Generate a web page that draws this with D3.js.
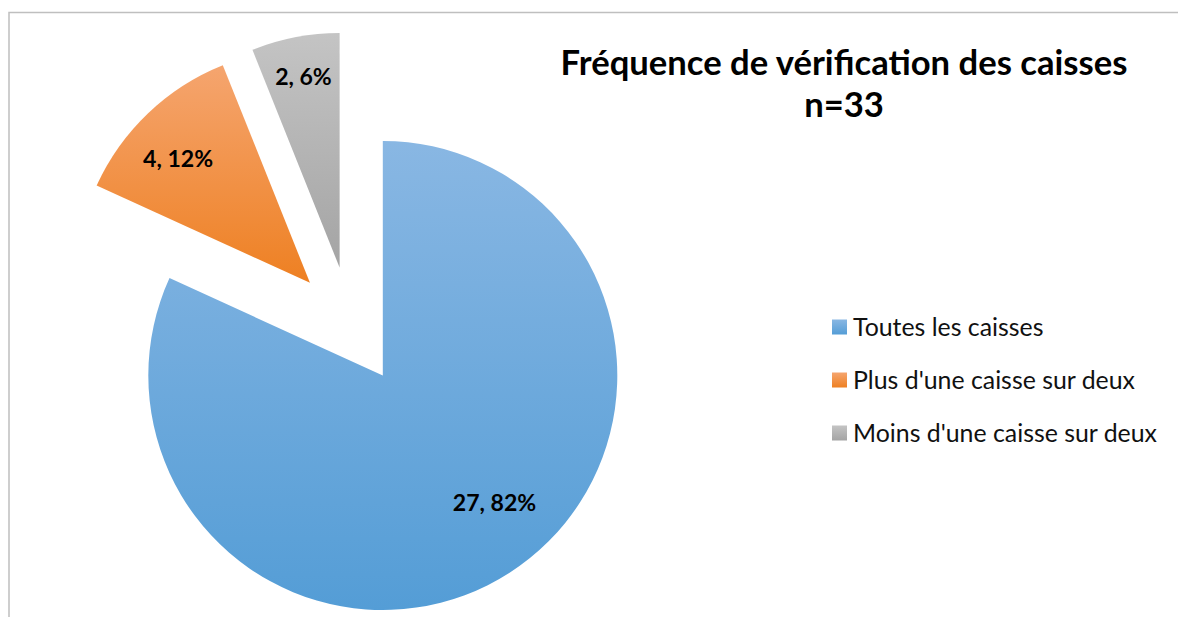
<!DOCTYPE html>
<html>
<head>
<meta charset="utf-8">
<script src="https://cdnjs.cloudflare.com/ajax/libs/d3/7.8.5/d3.min.js"></script>
<style>
  html, body { margin: 0; padding: 0; background: #fff; }
  svg { display: block; }
  text { font-family: Lato, "Open Sans", "Liberation Sans", sans-serif; }
</style>
</head>
<body>
<svg id="chart" width="1178" height="617"></svg>
<script>
// ---- data ----
const categories = ["Toutes les caisses", "Plus d'une caisse sur deux", "Moins d'une caisse sur deux"];
const values = [27, 4, 2];
const percentLabels = ["82%", "12%", "6%"];
const titleLines = ["Fréquence de vérification des caisses", "n=33"];

// ---- styles / layout ----
const gradStops = [
  ["#89b7e3", "#549dd6"],
  ["#f5a56f", "#ee8022"],
  ["#c4c4c4", "#a4a4a4"]
];
const W = 1178, H = 617;
const cx = 350.8, cy = 325.7, R = 234.5, explode = 59.2;
// label placement relative to each exploded slice apex: [fraction of R, angle in degrees]
const labelPolar = [[0.723, 138.8], [0.773, 313.3], [0.83, 349.3]];

const svg = d3.select("#chart");
const defs = svg.append("defs");
gradStops.forEach((s, i) => {
  const g = defs.append("linearGradient").attr("id", "g" + i)
    .attr("x1", 0).attr("y1", 0).attr("x2", 0).attr("y2", 1);
  g.append("stop").attr("offset", "0%").attr("stop-color", s[0]);
  g.append("stop").attr("offset", "100%").attr("stop-color", s[1]);
});

// chart border (top and left visible)
svg.append("rect")
  .attr("x", 9).attr("y", 12.5).attr("width", W + 20).attr("height", H + 20)
  .attr("fill", "none").attr("stroke", "#bfbfbf").attr("stroke-width", 1.5);

const pie = d3.pie().sort(null).value(d => d);
const arcs = pie(values);
const arc = d3.arc().innerRadius(0).outerRadius(R);

const slices = svg.append("g").attr("transform", `translate(${cx},${cy})`);
arcs.forEach((a, i) => {
  const mid = (a.startAngle + a.endAngle) / 2;
  const dx = explode * Math.sin(mid), dy = -explode * Math.cos(mid);
  a.apex = [cx + dx, cy + dy];
  slices.append("path")
    .attr("d", arc(a))
    .attr("transform", `translate(${dx},${dy})`)
    .attr("fill", `url(#g${i})`);
});

// scale the font of a group so that its reference string gets targetWidth
function fitGroup(sel, refIndex, targetWidth, base) {
  sel.attr("font-size", base);
  const w = sel.nodes()[refIndex].getComputedTextLength();
  sel.attr("font-size", base * targetWidth / w);
}

// data labels
const labels = svg.append("g").selectAll("text").data(arcs).join("text")
  .attr("x", (a, i) => a.apex[0] + labelPolar[i][0] * R * Math.sin(labelPolar[i][1] * Math.PI / 180))
  .attr("y", (a, i) => a.apex[1] - labelPolar[i][0] * R * Math.cos(labelPolar[i][1] * Math.PI / 180))
  .attr("text-anchor", "middle").attr("dy", "0.36em")
  .attr("font-weight", "bold").attr("fill", "#000")
  .text((a, i) => values[i] + ", " + percentLabels[i]);
fitGroup(labels, 1, 70, 20);

// title
const title = svg.append("g").selectAll("text").data(titleLines).join("text")
  .attr("x", 844).attr("y", (d, i) => i === 0 ? 75 : 117)
  .attr("text-anchor", "middle").attr("font-weight", "bold").attr("fill", "#000")
  .text(d => d);
fitGroup(title, 0, 567, 30);

// legend
const legend = svg.append("g");
const rowY = [327, 380, 433];
const items = legend.selectAll("g").data(categories).join("g")
  .attr("transform", (d, i) => `translate(832,${rowY[i]})`);
items.append("rect").attr("x", 0).attr("y", -7.5).attr("width", 15).attr("height", 15)
  .attr("fill", (d, i) => `url(#g${i})`);
const ltexts = items.append("text").attr("x", 21).attr("y", 0).attr("dy", "0.37em")
  .attr("fill", "#111").text(d => d);
fitGroup(ltexts, 2, 304, 20);
</script>
</body>
</html>
